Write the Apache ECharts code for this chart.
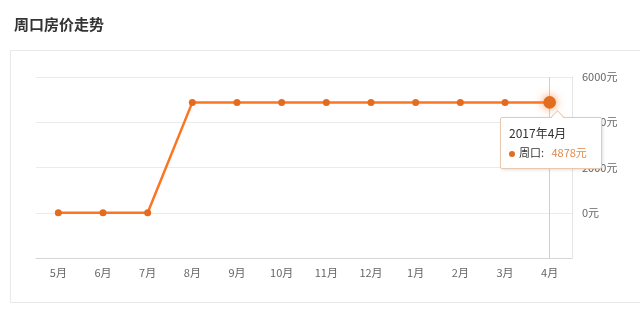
<!DOCTYPE html>
<html>
<head>
<meta charset="utf-8">
<script src="https://cdn.jsdelivr.net/npm/echarts@6/dist/echarts.min.js"></script>
<style>
html,body{margin:0;padding:0;background:#fff;}
#c{width:640px;height:322px;}
</style>
</head>
<body>
<div id="c"></div>
<script>
var categories = ['5月','6月','7月','8月','9月','10月','11月','12月','1月','2月','3月','4月'];
var fullDates = ['2016年5月','2016年6月','2016年7月','2016年8月','2016年9月','2016年10月','2016年11月','2016年12月','2017年1月','2017年2月','2017年3月','2017年4月'];
var prices = [0,0,0,4878,4878,4878,4878,4878,4878,4878,4878,4878];
var seriesName = '周口';
var yTicks = {min:-2000, max:6000, interval:2000};

var FONT = '"Noto Sans CJK SC","Noto Sans",sans-serif';
var ORANGE = '#e46c1f';
var chart = echarts.init(document.getElementById('c'), null, {renderer:'canvas'});
chart.setOption({
  animation:false,
  textStyle:{fontFamily:FONT},
  title:{text:'周口房价走势', left:9, top:12, textStyle:{fontSize:15, fontWeight:'bold', color:'#333', fontFamily:FONT}},
  graphic:[{type:'rect', shape:{x:10.5,y:50.5,width:640,height:252}, style:{fill:'none', stroke:'#e8e8e8', lineWidth:1}, silent:true}],
  grid:{left:36, right:68, top:77, bottom:64},
  tooltip:{
    trigger:'axis',
    alwaysShowContent:true,
    backgroundColor:'#fff',
    borderColor:'#e8c9b0',
    borderWidth:1,
    padding:[6,8,6,8],
    extraCssText:'box-shadow:1px 1px 3px rgba(0,0,0,0.12);border-radius:2px;overflow:visible;',
    axisPointer:{type:'line', z:0, lineStyle:{color:'#cfcfcf', width:1, type:'solid'}},
    position:function(){return [500,117];},
    formatter:function(params){
      var p = params[0];
      return '<div style="position:relative;width:84px;font-family:'+FONT.replace(/"/g,"'")+';">'+
        '<div style="position:absolute;left:44px;top:-12px;width:8px;height:8px;background:#fff;border-left:1px solid #e8c9b0;border-top:1px solid #e8c9b0;transform:rotate(45deg);"></div>'+
        '<div style="font-size:12px;color:#333;line-height:18px;">'+fullDates[p.dataIndex]+'</div>'+
        '<div style="font-size:11px;color:#333;line-height:20px;white-space:nowrap;">'+
        '<span style="display:inline-block;width:6px;height:6px;border-radius:3px;background:'+ORANGE+';margin-right:4px;vertical-align:middle;"></span>'+
        p.seriesName+':&nbsp;&nbsp;&nbsp;<span style="color:#e0884a;">'+p.value+'元</span></div></div>';
    }
  },
  xAxis:{
    type:'category',
    data:categories,
    boundaryGap:true,
    axisLine:{onZero:false, lineStyle:{color:'#d6d6d6'}},
    axisTick:{alignWithLabel:true, length:3, lineStyle:{color:'#d6d6d6'}},
    axisLabel:{color:'#666', fontSize:11, margin:9}
  },
  yAxis:{
    type:'value',
    position:'right',
    min:yTicks.min, max:yTicks.max, interval:yTicks.interval,
    axisLine:{show:true, lineStyle:{color:'#e4e4e4'}},
    axisTick:{show:false},
    axisLabel:{color:'#666', fontSize:11, margin:10, formatter:function(v){return v<0?'':v+'元';}},
    splitLine:{lineStyle:{color:'#ebebeb'}}
  },
  series:[{
    name:seriesName,
    type:'line',
    data:prices,
    z:5,
    symbol:'circle',
    symbolSize:7,
    lineStyle:{color:ORANGE, width:2.5},
    itemStyle:{color:ORANGE},
    emphasis:{scale:1.8, itemStyle:{color:ORANGE, borderWidth:0, shadowBlur:10, shadowColor:'rgba(245,120,40,0.8)'}, lineStyle:{width:2.5}}
  }]
});
chart.dispatchAction({type:'showTip', seriesIndex:0, dataIndex:11});
chart.dispatchAction({type:'highlight', seriesIndex:0, dataIndex:11});
</script>
</body>
</html>
